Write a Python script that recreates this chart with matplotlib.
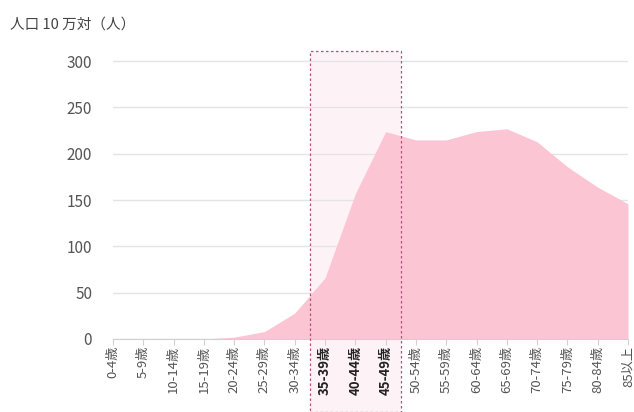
import matplotlib.pyplot as plt
from matplotlib.patches import Rectangle
from matplotlib.transforms import blended_transform_factory

plt.rcParams['font.family'] = ['Noto Sans CJK JP', 'DejaVu Sans']

# 年齢階級と人口10万対の値
age_groups = ['0-4歳', '5-9歳', '10-14歳', '15-19歳', '20-24歳', '25-29歳',
              '30-34歳', '35-39歳', '40-44歳', '45-49歳', '50-54歳', '55-59歳',
              '60-64歳', '65-69歳', '70-74歳', '75-79歳', '80-84歳', '85以上']
rates = [0, 0, 0, 0, 2, 8, 28, 66, 157, 224, 215, 215, 224, 227, 213, 186, 164, 146]
highlight = ['35-39歳', '40-44歳', '45-49歳']
y_ticks = [0, 50, 100, 150, 200, 250, 300]

fig = plt.figure(figsize=(6.34, 4.12), dpi=100)
ax = fig.add_axes([0.1782, 0.1772, 0.8123, 0.699])

x = list(range(len(age_groups)))
ax.fill_between(x, rates, 0, color='#fcc5d4', linewidth=0, zorder=2)

# 強調範囲（35-49歳）
hi = [age_groups.index(a) for a in highlight]
tr = blended_transform_factory(ax.transData, ax.transAxes)
bottom = -73 / 288
ax.add_patch(Rectangle((hi[0] - 0.5, bottom), hi[-1] - hi[0] + 1, 1 - bottom,
                       transform=tr, clip_on=False, facecolor='#fdeef3', alpha=0.7,
                       edgecolor='none', zorder=0.3))
ax.add_patch(Rectangle((hi[0] - 0.5, bottom), hi[-1] - hi[0] + 1, 1 - bottom,
                       transform=tr, clip_on=False, facecolor='none',
                       edgecolor='#b5507e', linestyle=(0, (2, 2)), linewidth=0.9,
                       zorder=4))

ax.set_xlim(0, len(age_groups) - 1)
ax.set_ylim(0, 311)
ax.set_yticks(y_ticks)
ax.yaxis.grid(True, color='#e4e4e4', linewidth=1)
ax.set_axisbelow(True)
for s in ['top', 'right', 'left']:
    ax.spines[s].set_visible(False)
ax.spines['bottom'].set_color('#d0d0d0')
ax.tick_params(axis='y', length=0, pad=15, labelsize=11, labelcolor='#555555')
ax.tick_params(axis='x', length=4, color='#d0d0d0', pad=1)

ax.set_xticks(x)
ax.set_xticklabels(age_groups, rotation=90, fontsize=9.5, color='#555555')
for lbl in ax.get_xticklabels():
    if lbl.get_text() in highlight:
        lbl.set_fontweight('bold')
        lbl.set_color('#222222')

fig.text(10 / 634, 1 - 25 / 412, '人口 10 万対（人）', fontsize=10.5, color='#444444',
         va='center', ha='left')

plt.savefig('out.png', dpi=100)
